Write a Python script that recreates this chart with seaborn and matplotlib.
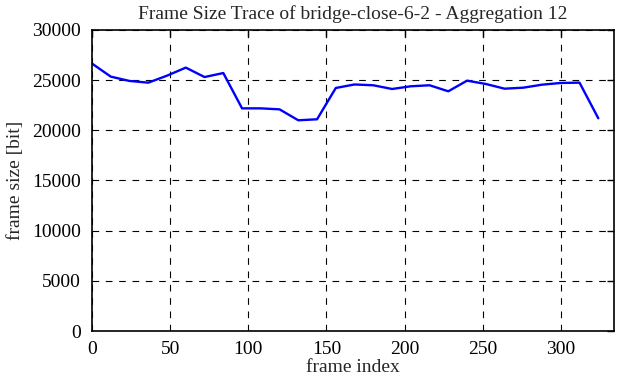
import numpy as np
import pandas as pd
import seaborn as sns
from matplotlib import pyplot as plt

# aggregated frame sizes, one value per 12 frames
frame_index = [0, 12, 24, 36, 48, 60, 72, 84, 96, 108, 120, 132, 144, 156,
               168, 180, 192, 204, 216, 228, 240, 252, 264, 276, 288, 300, 312, 324]
frame_size = [26650, 25350, 24920, 24750, 25450, 26250, 25310, 25710, 22190, 22190,
              22090, 21000, 21100, 24220, 24570, 24490, 24120, 24390, 24490, 23890,
              24950, 24620, 24150, 24250, 24550, 24720, 24750, 21200]

df = pd.DataFrame({'frame index': frame_index, 'frame size [bit]': frame_size})

sns.set_style('white')
plt.rcParams['font.family'] = ['Liberation Serif', 'DejaVu Serif']

fig = plt.figure(figsize=(6.22, 3.82), dpi=100)
ax = fig.add_axes([0.148, 0.1335, 0.839, 0.788])

sns.lineplot(data=df, x='frame index', y='frame size [bit]', color='#0000ff',
             linewidth=1.7, ax=ax)

ax.set_xlim(0, 334)
ax.set_ylim(0, 30000)
ax.set_xticks(np.arange(0, 301, 50))
ax.set_yticks(np.arange(0, 30001, 5000))
ax.grid(True, color='black', linestyle=(0, (6, 6)), linewidth=0.8)
for s in ax.spines.values():
    s.set_color('black')
    s.set_linewidth(1.2)
ax.tick_params(direction='in', length=5, width=1, top=True, right=True,
               labelsize=14, colors='black')
ax.tick_params(axis='x', pad=7)
ax.tick_params(axis='y', pad=8)
ax.set_xlabel('frame index', fontsize=14, labelpad=1)
ax.set_ylabel('frame size [bit]', fontsize=14, labelpad=6)
ax.set_title('Frame Size Trace of bridge-close-6-2 - Aggregation 12', fontsize=14, pad=8)

fig.savefig('out.png', dpi=100)
